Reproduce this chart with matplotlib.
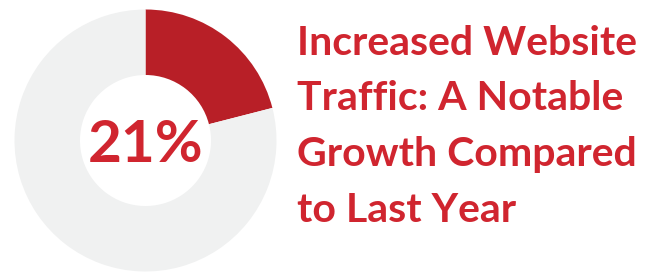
import matplotlib
matplotlib.use("Agg")
import matplotlib.pyplot as plt

# Data
labels = ["Increase", "Remainder"]
values = [21, 79]
center_label = "21%"
title_lines = ["Increased Website", "Traffic: A Notable", "Growth Compared", "to Last Year"]

colors = ["#b81f27", "#f0f1f1"]
text_color = "#d0252f"

W, H = 647, 273
fig = plt.figure(figsize=(W / 100, H / 100), dpi=100)
fig.patch.set_facecolor("white")

cx, cy, r = 145.5, 140.5, 131
ax = fig.add_axes([(cx - r) / W, (H - cy - r) / H, 2 * r / W, 2 * r / H])
ax.pie(values, colors=colors, startangle=90, counterclock=False, radius=1,
       wedgeprops=dict(width=0.5, edgecolor="none"))
ax.set_xlim(-1, 1)
ax.set_ylim(-1, 1)
ax.set_aspect("equal")
ax.axis("off")
ax.text(0, 0, center_label, ha="center", va="center_baseline", fontsize=42,
        fontfamily="Lato", fontweight="bold", color=text_color)

baselines = [55, 110, 166, 222]
for line, b in zip(title_lines, baselines):
    fig.text(297 / W, 1 - b / H, line, ha="left", va="baseline", fontsize=29.5,
             fontfamily="Lato", fontweight="bold", color=text_color)

fig.savefig("out.png", dpi=100, facecolor="white")
